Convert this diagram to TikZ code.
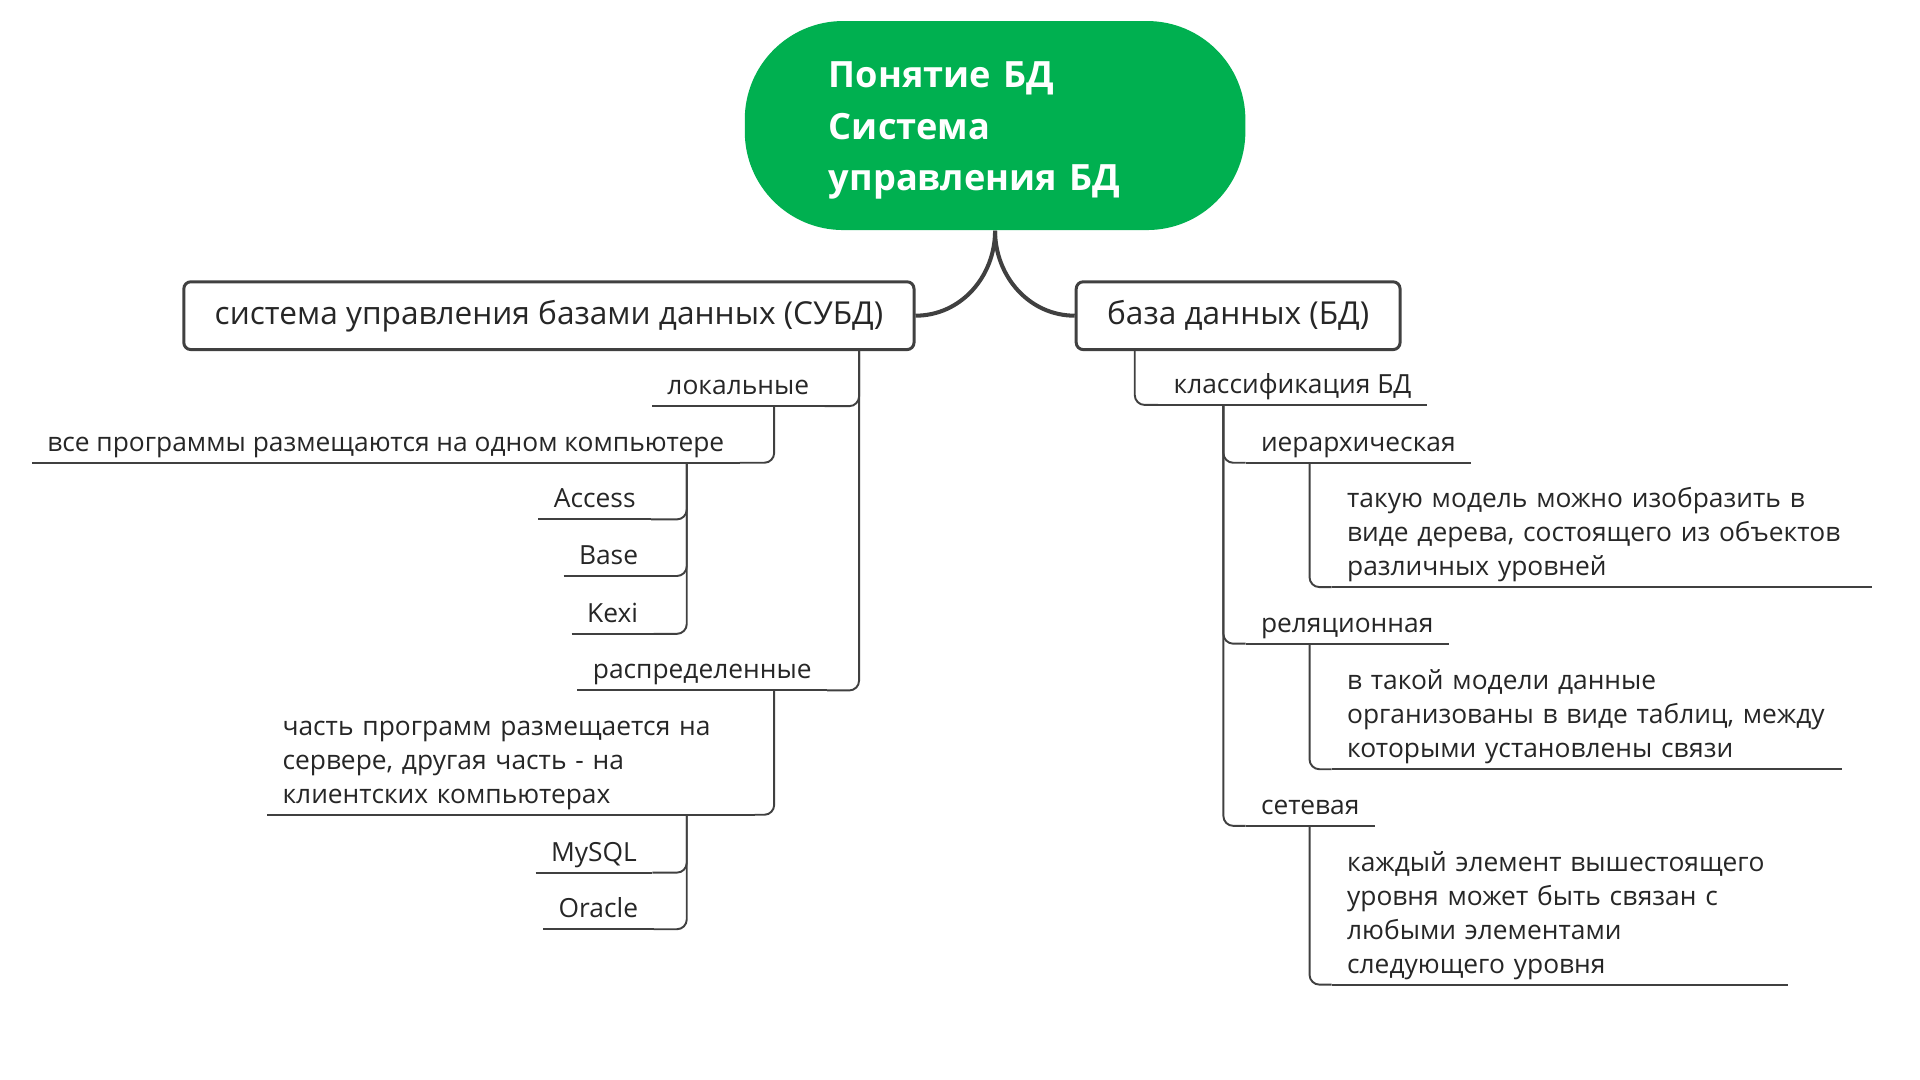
\documentclass[tikz,border=0pt]{standalone}
\usepackage{fontspec}
\setmainfont{Open Sans}
\usepackage{xcolor}
\definecolor{rootgreen}{HTML}{00B050}
\definecolor{linegray}{HTML}{404040}
\definecolor{textgray}{HTML}{262626}

\begin{document}
\begin{tikzpicture}[x=0.012308cm, y=-0.012308cm,
	root/.style={
		rectangle, rounded corners=28pt, fill=rootgreen,
		minimum width=142.5pt, minimum height=59.5pt,
		text width=94.6pt, text depth=29pt, align=left, text=white,
		font=\fontsize{10.3}{14.7}\selectfont\bfseries
	},
	mainbox/.style={
		draw=linegray, line width=0.85pt, rounded corners=2pt,
		minimum height=19.3pt, inner xsep=8.8pt, text=textgray,
		font=\fontsize{9}{11}\selectfont
	},
	topic/.style={
		inner xsep=4.2pt, inner ysep=3.1pt, text depth=0pt,
		text=textgray, align=left,
		font=\fontsize{7.5}{9.63}\selectfont
	},
	% depth of the lines below the first one
	lines/.style={text depth=#1*9.63pt},
	mainlink/.style={draw=linegray, line width=1.15pt},
	branch/.style={draw=linegray, line width=0.55pt, rounded corners=2.8pt}
	]

	\useasboundingbox (0,0) rectangle (1560,877.5);

	% central topic and the two main topics
	\node[root] (root) at (808.5,102) {Понятие БД\\Система\\управления БД};
	\node[mainbox] (subd) at (446,256.5) {система управления базами данных (СУБД)};
	\node[mainbox] (bd) at (1006,256.5) {база данных (БД)};

	\draw[mainlink] (root.south) to[out=-90,in=0] (subd.east);
	\draw[mainlink] (root.south) to[out=-90,in=180] (bd.west);

	% left side
	\node[topic, anchor=south east] (lok) at (670,330) {локальные};
	\node[topic, anchor=south east] (all) at (601,376) {все программы размещаются на одном компьютере};
	\node[topic, anchor=south east] (acc) at (529,422) {Access};
	\node[topic, anchor=south east] (base) at (531,468) {Base};
	\node[topic, anchor=south east] (kexi) at (531,515) {Kexi};
	\node[topic, anchor=south east] (raspr) at (672,561) {распределенные};
	\node[topic, lines=2, anchor=south west, text width=130pt] (part) at (217,662)
		{часть программ размещается на\\сервере, другая часть - на\\клиентских компьютерах};
	\node[topic, anchor=south east] (mysql) at (530,709) {MySQL};
	\node[topic, anchor=south east] (oracle) at (531,755) {Oracle};

	\coordinate (subdT) at (698,284);
	\coordinate (lokT) at (629,330);
	\coordinate (allT) at (558,376);
	\coordinate (rasprT) at (629,561);
	\coordinate (partT) at (558,662);

	\foreach \n in {lok,raspr} \draw[branch] (subdT) |- (\n.south east);
	\draw[branch] (lokT) |- (all.south east);
	\foreach \n in {acc,base,kexi} \draw[branch] (allT) |- (\n.south east);
	\draw[branch] (rasprT) |- (part.south east);
	\foreach \n in {mysql,oracle} \draw[branch] (partT) |- (\n.south east);

	% right side
	\node[topic, anchor=south west] (klass) at (941,329) {классификация БД};
	\node[topic, anchor=south west] (ier) at (1012,376) {иерархическая};
	\node[topic, anchor=south west] (rel) at (1012,523) {реляционная};
	\node[topic, anchor=south west] (set) at (1012,671) {сетевая};
	\node[topic, lines=2, anchor=south west, text width=145pt] (ierD) at (1082,477)
		{такую модель можно изобразить в\\виде дерева, состоящего из объектов\\различных уровней};
	\node[topic, lines=2, anchor=south west, text width=136.6pt] (relD) at (1082,625)
		{в такой модели данные\\организованы в виде таблиц, между\\которыми установлены связи};
	\node[topic, lines=3, anchor=south west, text width=121pt] (setD) at (1082,800)
		{каждый элемент вышестоящего\\уровня может быть связан с\\любыми элементами\\следующего уровня};

	\coordinate (bdT) at (922,284);
	\coordinate (klassT) at (994,329);
	\coordinate (ierT) at (1064,376);
	\coordinate (relT) at (1064,523);
	\coordinate (setT) at (1064,671);

	\draw[branch] (bdT) |- (klass.south west);
	\foreach \n in {ier,rel,set} \draw[branch] (klassT) |- (\n.south west);
	\draw[branch] (ierT) |- (ierD.south west);
	\draw[branch] (relT) |- (relD.south west);
	\draw[branch] (setT) |- (setD.south west);

	% underlines of the topics
	\foreach \n in {lok,all,acc,base,kexi,raspr,part,mysql,oracle,klass,ier,rel,set,ierD,relD,setD}
		\draw[branch] (\n.south west) -- (\n.south east);
\end{tikzpicture}
\end{document}
